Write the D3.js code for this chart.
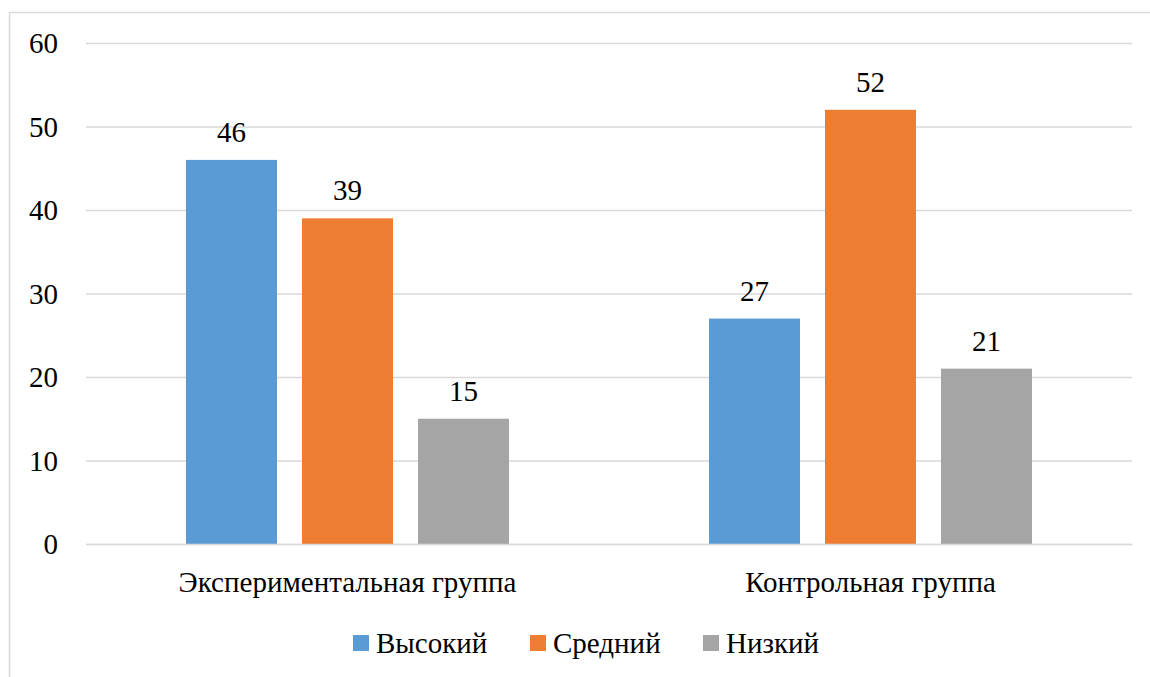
<!DOCTYPE html>
<html><head><meta charset="utf-8">
<script src="https://cdn.jsdelivr.net/npm/d3@7"></script>
</head><body style="margin:0;background:#fff"><svg id="c" width="1150" height="677" style="display:block"></svg>
<script>
const categories = ["Экспериментальная группа", "Контрольная группа"];
const seriesNames = ["Высокий", "Средний", "Низкий"];
const high = [46, 27];
const mid = [39, 52];
const low = [15, 21];
const yTicks = [0, 10, 20, 30, 40, 50, 60];
const colors = ["#5b9bd5", "#ed7d31", "#a5a5a5"];
const series = [high, mid, low];

const FONT = "Liberation Serif";
const svg = d3.select("#c");
const W = 1150, H = 677;
const fs = 29;
svg.append("rect").attr("x", 9.5).attr("y", 12.5).attr("width", W + 10).attr("height", H + 10)
  .attr("fill", "#fff").attr("stroke", "#d9d9d9").attr("stroke-width", 1.5);

const x0 = d3.scaleBand().domain(categories).range([86, 1132]).padding(0);
const y = d3.scaleLinear().domain([0, 60]).range([544, 43]);
const barW = 91, gap = 25;
const x1 = d3.scaleBand().domain(d3.range(3)).range([0, 3 * barW + 2 * gap]).paddingInner(gap / (barW + gap));

const yAxis = d3.axisLeft(y).tickValues(yTicks).tickSize(-(1132 - 86)).tickPadding(28);
const ga = svg.append("g").attr("transform", "translate(86,0)").call(yAxis);
ga.attr("font-family", FONT).attr("font-size", fs);
ga.select(".domain").remove();
ga.selectAll(".tick line").attr("stroke", "#d9d9d9").attr("stroke-width", 1.5);
ga.selectAll(".tick text").attr("font-size", fs).attr("font-family", FONT).attr("fill", "#000").attr("dy", "0.34em");

const clusterW = 3 * barW + 2 * gap;
categories.forEach((c, ci) => {
  const gx = x0(c) + (x0.bandwidth() - clusterW) / 2;
  series.forEach((s, si) => {
    const v = s[ci];
    svg.append("rect").attr("x", gx + x1(si)).attr("y", y(v)).attr("width", x1.bandwidth())
      .attr("height", y(0) - y(v)).attr("fill", colors[si]);
    svg.append("text").attr("x", gx + x1(si) + x1.bandwidth() / 2).attr("y", y(v) - 18)
      .attr("text-anchor", "middle").attr("font-size", fs).attr("font-family", FONT)
      .attr("fill", "#000").text(v);
  });
});

const xa = svg.append("g").attr("transform", "translate(0,544)").call(d3.axisBottom(x0).tickSize(0).tickPadding(0));
xa.attr("font-family", FONT).attr("font-size", fs);
xa.select(".domain").attr("stroke", "#d9d9d9").attr("stroke-width", 1.5);
xa.selectAll(".tick text").attr("font-size", fs).attr("font-family", FONT)
  .attr("fill", "#000").attr("dy", null).attr("y", 48);

const legX = [353, 530, 703];
seriesNames.forEach((n, i) => {
  svg.append("rect").attr("x", legX[i]).attr("y", 635).attr("width", 16).attr("height", 16).attr("fill", colors[i]);
  svg.append("text").attr("x", legX[i] + 23).attr("y", 653).attr("font-size", fs).attr("font-family", FONT)
    .attr("fill", "#000").text(n);
});
</script></body></html>
